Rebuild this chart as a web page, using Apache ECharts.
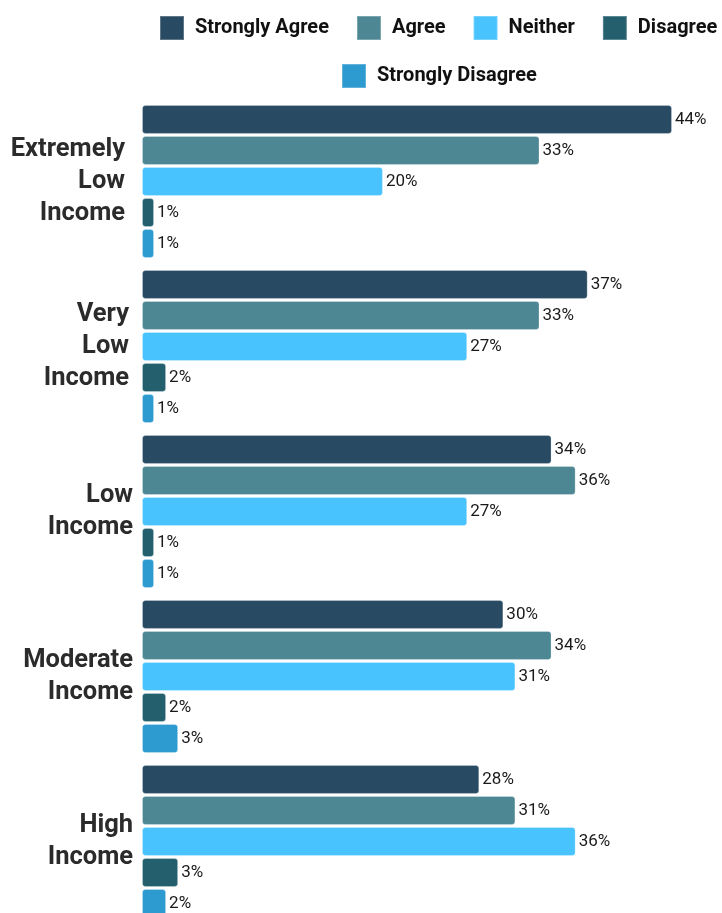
<!DOCTYPE html>
<html>
<head>
<meta charset="utf-8">
<script src="https://cdn.jsdelivr.net/npm/echarts@6/dist/echarts.min.js"></script>
<style>
  html, body { margin: 0; padding: 0; background: #fff; }
  #chart { width: 722px; height: 913px; }
</style>
</head>
<body>
<div id="chart"></div>
<script>
// categories (top to bottom)
const categories = ['Extremely\nLow\nIncome', 'Very\nLow\nIncome', 'Low\nIncome', 'Moderate\nIncome', 'High\nIncome'];
// percent values per answer
const stronglyAgree = [44, 37, 34, 30, 28];
const agree = [33, 33, 36, 34, 31];
const neither = [20, 27, 27, 31, 36];
const disagree = [1, 2, 1, 2, 3];
const stronglyDisagree = [1, 1, 1, 3, 2];

const seriesNames = ['Strongly Agree', 'Agree', 'Neither', 'Disagree', 'Strongly Disagree'];
const seriesData = [stronglyAgree, agree, neither, disagree, stronglyDisagree];
const colors = ['#284b63', '#4e8794', '#49c3fe', '#235f6c', '#2d9ad0'];
// the first two labels sit a little further from the bars
const labelPad = [8, 4, 0, 0, 0];

const chart = echarts.init(document.getElementById('chart'));

const legendText = {
  fontFamily: 'Roboto',
  fontWeight: 'bold',
  fontSize: 20,
  color: '#111',
  padding: [0, 0, 0, 6]
};

const option = {
  animation: false,
  color: colors,
  legend: [
    {
      data: seriesNames.slice(0, 4),
      left: 159,
      top: 15,
      padding: 0,
      itemWidth: 24,
      itemHeight: 24,
      itemGap: 27,
      icon: 'rect',
      textStyle: legendText
    },
    {
      data: seriesNames.slice(4),
      left: 341,
      top: 63,
      padding: 0,
      itemWidth: 24,
      itemHeight: 24,
      icon: 'rect',
      textStyle: legendText
    }
  ],
  grid: {
    left: 142,
    width: 530,
    top: 99,
    height: 825,
    outerBoundsMode: 'none'
  },
  xAxis: {
    type: 'value',
    min: 0,
    max: 44,
    show: false
  },
  yAxis: {
    type: 'category',
    data: categories.map(function (c, i) {
      return { value: c, textStyle: { padding: [0, labelPad[i], 0, 0] } };
    }),
    inverse: true,
    axisLine: { show: false },
    axisTick: { show: false },
    axisLabel: {
      margin: 9,
      fontFamily: 'Roboto',
      fontWeight: 'bold',
      fontSize: 25.5,
      lineHeight: 32,
      color: '#2b2b2b',
      align: 'right'
    }
  },
  series: seriesNames.map(function (name, i) {
    return {
      name: name,
      type: 'bar',
      data: seriesData[i],
      barWidth: 29,
      barGap: '7%',
      itemStyle: {
        borderRadius: 3,
        borderColor: 'rgba(255,255,255,0.25)',
        borderWidth: 1
      },
      label: {
        show: true,
        position: 'right',
        distance: 3,
        formatter: '{c}%',
        fontFamily: 'Roboto',
        fontSize: 17,
        color: '#1a1a1a'
      }
    };
  })
};

chart.setOption(option);
</script>
</body>
</html>
